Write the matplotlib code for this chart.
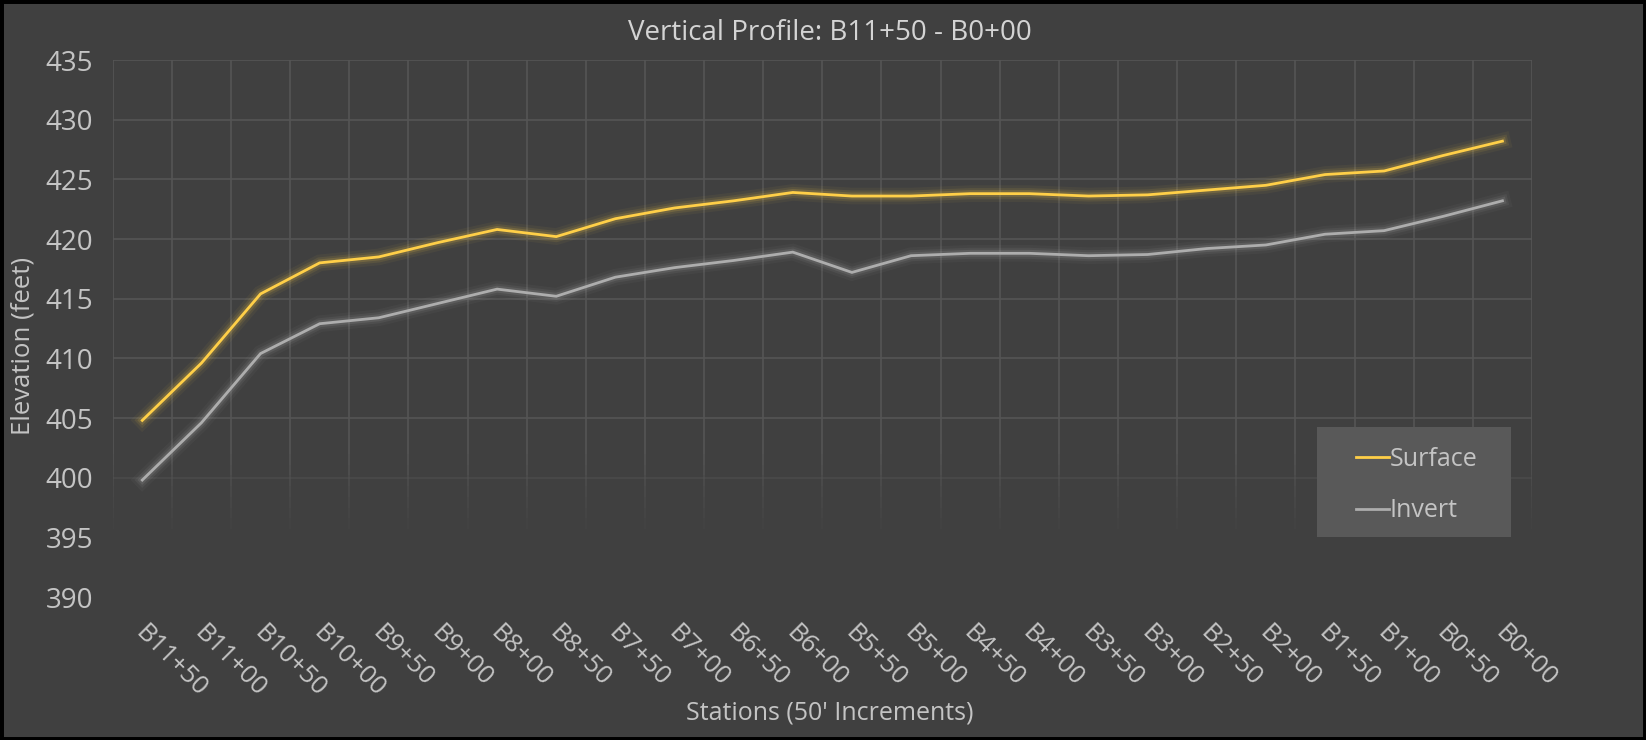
import matplotlib
matplotlib.use("Agg")
import matplotlib.pyplot as plt
import matplotlib.patheffects as pe
from matplotlib.patches import Rectangle
import matplotlib.transforms as mtransforms

stations = ["B11+50", "B11+00", "B10+50", "B10+00", "B9+50", "B9+00", "B8+00", "B8+50",
            "B7+50", "B7+00", "B6+50", "B6+00", "B5+50", "B5+00", "B4+50", "B4+00",
            "B3+50", "B3+00", "B2+50", "B2+00", "B1+50", "B1+00", "B0+50", "B0+00"]
surface = [404.8, 409.6, 415.4, 418.0, 418.5, 419.7, 420.8, 420.2,
           421.7, 422.6, 423.2, 423.9, 423.6, 423.6, 423.8, 423.8,
           423.6, 423.7, 424.1, 424.5, 425.4, 425.7, 427.0, 428.2]
invert = [399.8, 404.6, 410.4, 412.9, 413.4, 414.6, 415.8, 415.2,
          416.8, 417.6, 418.2, 418.9, 417.2, 418.6, 418.8, 418.8,
          418.6, 418.7, 419.2, 419.5, 420.4, 420.7, 421.9, 423.2]
yticks = [390, 395, 400, 405, 410, 415, 420, 425, 430, 435]

BG = "#404040"
TXT = "#C4C4C4"
GRID = "#555555"
YEL = "#FFCF48"
GRY = "#ADADAD"
FONT = ["Open Sans", "DejaVu Sans"]
plt.rcParams["font.family"] = FONT

fig = plt.figure(figsize=(16.46, 7.40), dpi=100, facecolor=BG)
W, H = 1646, 740
ax = fig.add_axes([112.7 / W, 1 - 597 / H, (1532 - 112.7) / W, (597 - 60) / H])
ax.set_facecolor(BG)
n = len(stations)
x = list(range(n))
ax.set_xlim(-0.5, n - 0.5)
ax.set_ylim(390, 435)

# gridlines (fade out near the bottom)
for v in yticks:
    if v >= 405:
        ax.axhline(v, color=GRID, lw=1.2, zorder=0)
    elif v == 400:
        ax.axhline(v, color=GRID, lw=1.2, alpha=0.5, zorder=0)
for i in range(n + 1):
    xb = i - 0.5
    ax.vlines(xb, 402, 435, color=GRID, lw=1.2, zorder=0)
    steps = 8
    for k in range(steps):
        y0 = 402 - k * 0.9
        ax.vlines(xb, y0 - 0.9, y0, color=GRID, lw=1.2,
                  alpha=max(0.0, 1 - (k + 1) / steps), zorder=0)

def glow(c):
    return [pe.Stroke(linewidth=12, foreground=c, alpha=0.05),
            pe.Stroke(linewidth=8, foreground=c, alpha=0.09),
            pe.Stroke(linewidth=5, foreground=c, alpha=0.15),
            pe.Normal()]

l1, = ax.plot(x, surface, color=YEL, lw=2.0, label="Surface", zorder=3,
              solid_joinstyle="miter", path_effects=glow(YEL))
l2, = ax.plot(x, invert, color=GRY, lw=2.0, label="Invert", zorder=3,
              solid_joinstyle="miter", path_effects=glow(GRY))

for s in ax.spines.values():
    s.set_visible(False)
ax.set_yticks(yticks)
ax.set_yticklabels([str(v) for v in yticks])
ax.tick_params(axis="y", length=0, pad=14, labelsize=20, labelcolor=TXT)
ax.set_xticks(x)
ax.set_xticklabels(stations, rotation=-45, ha="left", va="top",
                   rotation_mode="anchor")
ax.tick_params(axis="x", length=0, pad=17, labelsize=18.5, labelcolor=TXT)
offset = mtransforms.ScaledTranslation(6 / 100, 0, fig.dpi_scale_trans)
for lab in ax.get_xticklabels():
    lab.set_transform(lab.get_transform() + offset)

fig.text(830 / W, 1 - 33 / H, "Vertical Profile: B11+50 - B0+00", ha="center",
         va="center", fontsize=20, color="#D4D4D4")
fig.text(23 / W, 1 - 346 / H, "Elevation (feet)", rotation=90, ha="center",
         va="center", fontsize=18.5, color=TXT)
fig.text(830 / W, 1 - 713 / H, "Stations (50' Increments)", ha="center",
         va="center", fontsize=18, color=TXT)

# legend box
ax.add_patch(Rectangle((1317 / W, 1 - 537 / H), (1511 - 1317) / W, (537 - 427) / H,
                       transform=fig.transFigure, facecolor="#595959",
                       edgecolor="none", zorder=4, clip_on=False))
leg = ax.legend(handles=[l1, l2], loc="upper left",
                bbox_to_anchor=(1336 / W, 1 - 427 / H), bbox_transform=fig.transFigure,
                frameon=False, fontsize=18, handlelength=1.3, handletextpad=0.05,
                labelspacing=1.05, borderpad=0.3, labelcolor=TXT)
for h in leg.legend_handles:
    h.set_path_effects([])
    h.set_linewidth(2.0)
leg.set_zorder(5)

# outer frame
fig.patches.append(Rectangle((0, 0), 1, 1, transform=fig.transFigure, fill=False,
                             edgecolor="black", linewidth=5, zorder=10))

fig.savefig("out.png", dpi=100, facecolor=BG)
